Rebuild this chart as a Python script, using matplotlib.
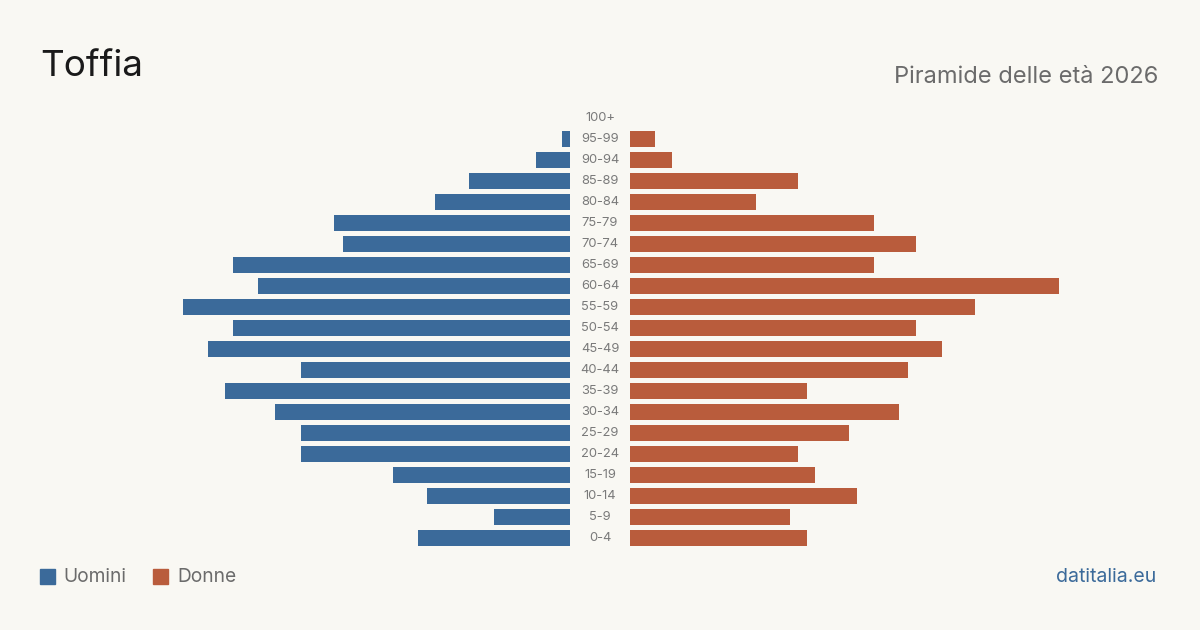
import matplotlib.pyplot as plt
from matplotlib.patches import Rectangle

plt.rcParams['font.family'] = ['Inter', 'DejaVu Sans']

age_groups = ['0-4', '5-9', '10-14', '15-19', '20-24', '25-29', '30-34', '35-39',
              '40-44', '45-49', '50-54', '55-59', '60-64', '65-69', '70-74',
              '75-79', '80-84', '85-89', '90-94', '95-99', '100+']
men = [18, 9, 17, 21, 32, 32, 35, 41, 32, 43, 40, 46, 37, 40, 27, 28, 16, 12, 4, 1, 0]
women = [21, 19, 27, 22, 20, 26, 32, 21, 33, 37, 34, 41, 51, 29, 34, 29, 15, 20, 5, 3, 0]

bg = '#f9f8f3'
blue = '#3b6a9a'
orange = '#b95c3c'

W, H = 1200, 630
fig = plt.figure(figsize=(12, 6.3), dpi=100, facecolor=bg)

px_per_unit = 8.42
xmax = 51
span = xmax * px_per_unit
bottom = (H - 548.5) / H
height = 441 / H

ax_l = fig.add_axes([(570 - span) / W, bottom, span / W, height])
ax_r = fig.add_axes([630 / W, bottom, span / W, height])

ypos = list(range(len(age_groups)))
ax_l.barh(ypos, men, height=0.8, color=blue)
ax_r.barh(ypos, women, height=0.8, color=orange)

for ax in (ax_l, ax_r):
    ax.set_facecolor('none')
    ax.set_ylim(-0.5, len(age_groups) - 0.5)
    ax.set_xlim(0, xmax)
    ax.axis('off')
ax_l.invert_xaxis()

# age labels in the gap
for y, lab in zip(ypos, age_groups):
    ax_r.annotate(lab, xy=(0, y), xytext=(-30, 0), textcoords='offset pixels',
                  ha='center', va='center', fontsize=9.3, color='#7a7a7a')

fig.text(40 / W, 1 - 67 / H, 'Toffia', fontsize=26.5, color='#1a1a1a',
         ha='left', va='center')
fig.text(1158 / W, 1 - 77 / H, 'Piramide delle età 2026', fontsize=17,
         color='#6b6b6b', ha='right', va='center')

# legend
fig.patches.append(Rectangle((40 / W, 1 - 584 / H), 15 / W, 15 / H,
                             transform=fig.transFigure, color=blue))
fig.text(63 / W, 1 - 577 / H, 'Uomini', fontsize=13.8, color='#6b6b6b',
         ha='left', va='center')
fig.patches.append(Rectangle((153 / W, 1 - 584 / H), 15 / W, 15 / H,
                             transform=fig.transFigure, color=orange))
fig.text(177 / W, 1 - 577 / H, 'Donne', fontsize=13.8, color='#6b6b6b',
         ha='left', va='center')

fig.text(1156 / W, 1 - 577 / H, 'datitalia.eu', fontsize=14, color=blue,
         ha='right', va='center')

fig.savefig('out.png', dpi=100, facecolor=bg)
